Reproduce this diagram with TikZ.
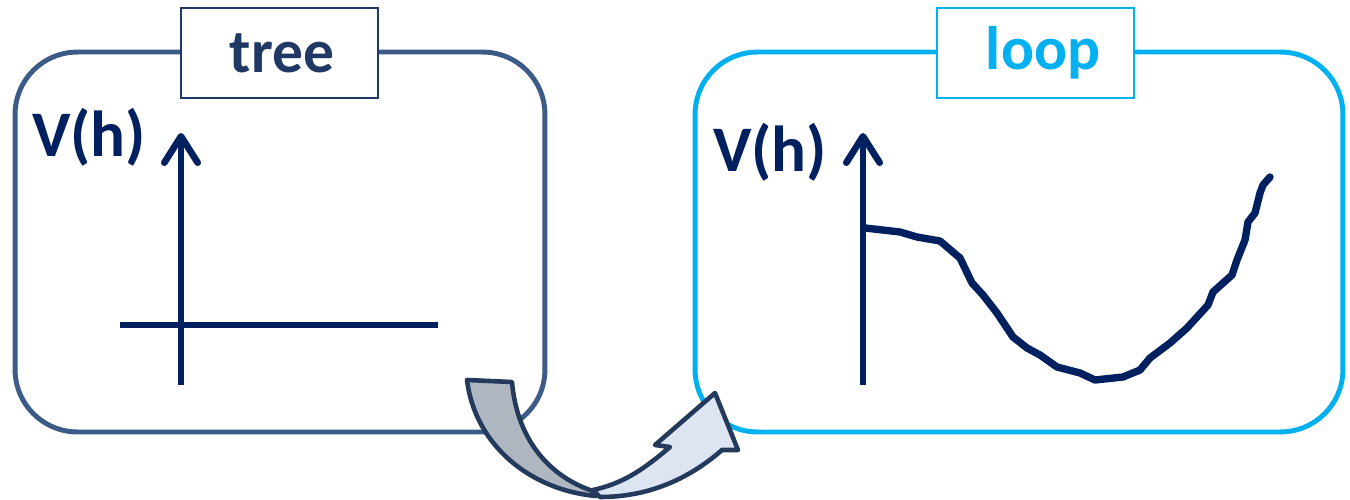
\documentclass[tikz,border=0pt]{standalone}
\usepackage{fontspec}
\setmainfont{Carlito}
\usetikzlibrary{arrows.meta}
\definecolor{panelL}{RGB}{60,92,135}
\definecolor{panelR}{RGB}{0,176,240}
\definecolor{navy}{RGB}{0,32,96}
\definecolor{treeblue}{RGB}{31,56,100}
\definecolor{arrowline}{RGB}{35,58,92}
\definecolor{arrowgray}{RGB}{174,182,191}
\definecolor{arrowlight}{RGB}{220,229,241}
\tikzset{
  panel/.style={draw, line width=2.8pt, rounded corners=1.25cm, fill=white},
  tag/.style={draw, line width=1.2pt, fill=white, minimum width=3.94cm, minimum height=1.8cm,
    inner sep=0pt, font=\fontsize{35}{40}\selectfont\bfseries},
  vlabel/.style={text=navy, font=\fontsize{37}{42}\selectfont\bfseries, inner sep=0pt},
  axis/.style={draw=navy, line width=3.8pt},
  axisarrow/.style={axis, -{Straight Barb[length=15pt, width=19pt, line cap=round, line join=round]}},
  potential/.style={draw=navy, line width=4.2pt, line join=round, line cap=round},
  bendshape/.style={draw=arrowline, line width=2.6pt, line join=round},
}
\begin{document}
\begin{tikzpicture}[x=0.02cm, y=-0.02cm]
\useasboundingbox (0,0) rectangle (1350,500);

% panels
\node[panel, draw=panelL, minimum width=10.6cm, minimum height=7.6cm, inner sep=0pt] (treebox) at (280,242) {};
\node[panel, draw=panelR, minimum width=12.96cm, minimum height=7.6cm, inner sep=0pt] (loopbox) at (1019,242) {};

% tags
\node[tag, draw=treeblue, text=treeblue] (treetag) at (279.5,53) {\hspace*{0.1cm}tree};
\node[tag, draw=panelR, text=panelR] (looptag) at (1035.5,53) {\hspace*{0.3cm}loop};

% left graph
\node[vlabel] (vl) at (89,137) {V(h)};
\coordinate (lbot) at (181,385);
\coordinate (ltop) at (181,133);
\coordinate (lxa) at (120,325);
\coordinate (lxb) at (438,325);
\draw[axisarrow] (lbot) -- (ltop);
\draw[axis] (lxa) -- (lxb);

% right graph
\node[vlabel] (vr) at (770,152) {V(h)};
\coordinate (rbot) at (863,385);
\coordinate (rtop) at (863,133);
\draw[axisarrow] (rbot) -- (rtop);
\coordinate (c0) at (865,228);
\draw[potential] (c0) -- (900,232) -- (917,237) -- (940,241) -- (960,258) -- (972,283)
  -- (983,295) -- (997,313) -- (1013,337) -- (1027,348) -- (1040,355) -- (1057,367)
  -- (1080,373) -- (1095,380) -- (1123,377) -- (1140,370) -- (1150,358) -- (1170,343)
  -- (1187,328) -- (1208,305) -- (1213,292) -- (1232,275) -- (1237,260) -- (1245,240)
  -- (1248,222) -- (1255,213) -- (1260,193) -- (1263,185) -- (1270,177);

% curved arrow between the panels: rising light part
\coordinate (tip) at (715,393);
\path[bendshape, fill=arrowlight]
  (593,490) .. controls (625,483) and (645,468) .. (670,447)
  -- (655,445) -- (tip) -- (738,450) -- (722,450)
  .. controls (690,478) and (650,497) .. (600,497)
  -- cycle;
% descending gray part
\path[bendshape, fill=arrowgray]
  (467,380) -- (512,382)
  .. controls (517,440) and (550,478) .. (596,492)
  -- (596,496)
  .. controls (530,490) and (475,445) .. (467,380)
  -- cycle;
\end{tikzpicture}
\end{document}
